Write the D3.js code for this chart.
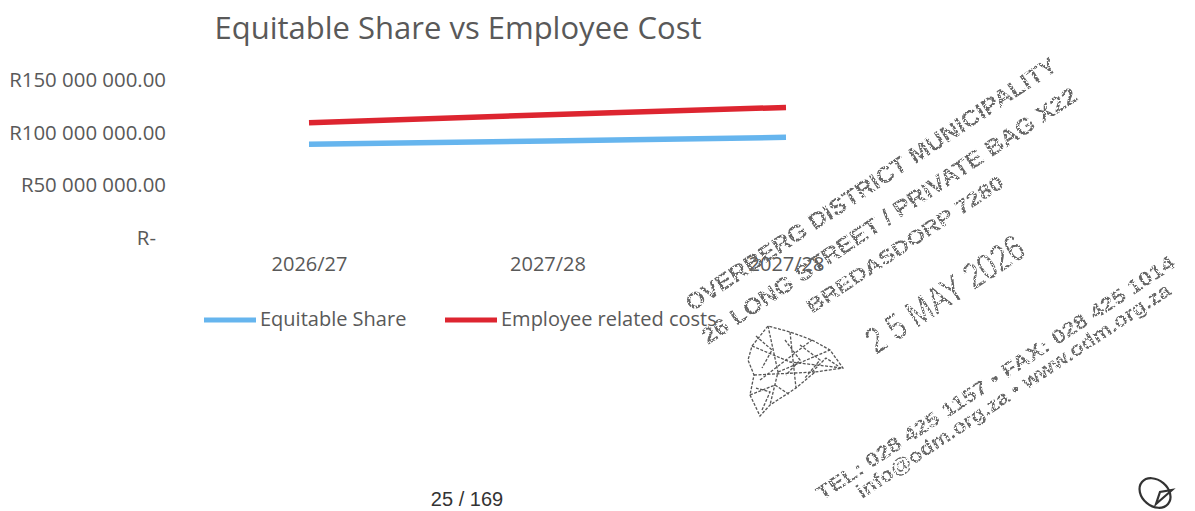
<!DOCTYPE html>
<html>
<head>
<meta charset="utf-8">
<script src="https://cdn.jsdelivr.net/npm/d3@7"></script>
<style>
html,body{margin:0;padding:0;background:#fff;}
svg{display:block;}
</style>
</head>
<body>
<svg id="chart" width="1195" height="511">
  <defs>
    <!-- Worn ink for the rubber stamp: knocks small flecks out of the glyphs -->
    <filter id="worn" x="-5%" y="-5%" width="110%" height="110%">
      <feTurbulence type="fractalNoise" baseFrequency="0.55" numOctaves="2" seed="7" result="noise"/>
      <feColorMatrix in="noise" type="matrix" values="0 0 0 0 0  0 0 0 0 0  0 0 0 0 0  0 0 0 -9 5.6" result="mask"/>
      <feComposite in="SourceGraphic" in2="mask" operator="in"/>
    </filter>
  </defs>
</svg>
<script>
const chartTitle = "Equitable Share vs Employee Cost";
const years = ["2026/27", "2027/28", "2027/28 "];
const equitableShare = [89000000, 92000000, 95600000];
const employeeCosts = [109500000, 117000000, 124000000];
const yTicks = [0, 50000000, 100000000, 150000000];
const legendNames = ["Equitable Share", "Employee related costs"];
const seriesColors = ["#66b5ee", "#dd2530"];
const stampLines = [
  {text: "OVERBERG DISTRICT MUNICIPALITY", x: 692, y: 312, len: 440, size: 23, weight: 700},
  {text: "26 LONG STREET / PRIVATE BAG X22", x: 708, y: 345, len: 445, size: 23, weight: 700},
  {text: "BREDASDORP 7280", x: 812, y: 314, len: 232, size: 20, weight: 700},
  {text: "2 5  MAY  2026", x: 876, y: 355, len: 182, size: 37, weight: 400},
  {text: "TEL: 028 425 1157  •  FAX: 028 425 1014", x: 822, y: 501, len: 425, size: 20, weight: 700},
  {text: "info@odm.org.za  •  www.odm.org.za", x: 862, y: 499, len: 372, size: 20, weight: 700}
];
const crestOutline = [[752,346],[768,326],[790,332],[812,340],[830,350],[843,368],[815,372],[796,388],[770,405],[760,416],[750,395],[754,375],[748,360]];
const crestLines = [
  [[768,326],[778,372],[770,405]], [[752,346],[790,362],[843,368]], [[790,332],[796,388]],
  [[760,380],[812,340]], [[754,375],[815,372]], [[778,372],[830,350]],
  [[756,336],[772,350],[762,368]], [[800,345],[820,360],[805,378]], [[750,395],[775,385],[790,395]],
  [[762,410],[770,392],[756,388]], [[785,340],[800,360],[786,375]], [[812,372],[826,358],[838,366]]
];

const svg = d3.select("#chart");
const font = "'Open Sans', 'Noto Sans', sans-serif";
const ink = "#595959";
const labelSize = 20;

const x = d3.scalePoint().domain(years).range([309, 786]);
const y = d3.scaleLinear().domain([0, 150000000]).range([238, 80]);

// Currency labels use a space as the thousands separator; zero shows as "R-".
const money = v => v === 0 ? "R-" : "R" + d3.format(",.2f")(v).replace(/,/g, " ");

svg.append("text").attr("x", 458).attr("y", 39).attr("text-anchor", "middle")
  .attr("font-family", font).attr("font-size", 31).attr("fill", ink).text(chartTitle);

const yAxis = svg.append("g").attr("transform", "translate(180,0)")
  .call(d3.axisLeft(y).tickValues(yTicks).tickFormat(money).tickSize(0).tickPadding(14));
yAxis.select(".domain").remove();
yAxis.selectAll("text").attr("font-family", font).attr("font-size", 20.4).attr("fill", ink);
yAxis.selectAll(".tick").filter(d => d === 0).select("text").attr("dx", -10);

const xAxis = svg.append("g").attr("transform", "translate(0,257)")
  .call(d3.axisBottom(x).tickSize(0).tickPadding(0));
xAxis.select(".domain").remove();
xAxis.selectAll("text").attr("font-family", font).attr("font-size", labelSize).attr("fill", ink);

const line = d3.line().x((d, i) => x(years[i])).y(d => y(d));
[equitableShare, employeeCosts].forEach((values, i) => {
  svg.append("path").attr("d", line(values)).attr("fill", "none")
    .attr("stroke", seriesColors[i]).attr("stroke-width", 5.5).attr("stroke-linecap", "butt");
});

// Legend entries: a short line followed by the series name.
const legendX = [204, 445];
legendNames.forEach((name, i) => {
  svg.append("line").attr("x1", legendX[i]).attr("x2", legendX[i] + 52)
    .attr("y1", 320).attr("y2", 320)
    .attr("stroke", seriesColors[i]).attr("stroke-width", 5);
  svg.append("text").attr("x", legendX[i] + 56).attr("y", 326)
    .attr("font-family", font).attr("font-size", labelSize).attr("fill", ink).text(name);
});

// Municipal rubber stamp across the lower right.
const stamp = svg.append("g").attr("fill", "#666").attr("filter", "url(#worn)")
  .attr("font-family", "'Liberation Sans', Arial, sans-serif");
stampLines.forEach(d => {
  stamp.append("text")
    .attr("transform", `translate(${d.x},${d.y}) rotate(-33.5)`)
    .attr("font-size", d.size).attr("font-weight", d.weight)
    .attr("textLength", d.len).attr("lengthAdjust", "spacingAndGlyphs")
    .text(d.text);
});

const crest = svg.append("g").attr("fill", "none").attr("stroke", "#555").attr("stroke-width", 1.3)
  .attr("stroke-dasharray", "3 1.5");
crest.append("path").attr("d", d3.line().curve(d3.curveLinearClosed)(crestOutline));
crestLines.forEach(pts => crest.append("path").attr("d", d3.line()(pts)));

svg.append("text").attr("x", 467).attr("y", 506).attr("text-anchor", "middle")
  .attr("font-family", "'Liberation Sans', Arial, sans-serif").attr("font-size", 20).attr("fill", "#333").text("25 / 169");

// Pen initial in the bottom corner.
const pen = svg.append("g").attr("fill", "none").attr("stroke", "#333").attr("stroke-width", 2.2);
pen.append("ellipse").attr("cx", 1155).attr("cy", 493).attr("rx", 17).attr("ry", 13)
  .attr("transform", "rotate(40 1155 493)");
pen.append("path").attr("d", "M1156,504 L1172,490 L1160,492 Z");
</script>
</body>
</html>
